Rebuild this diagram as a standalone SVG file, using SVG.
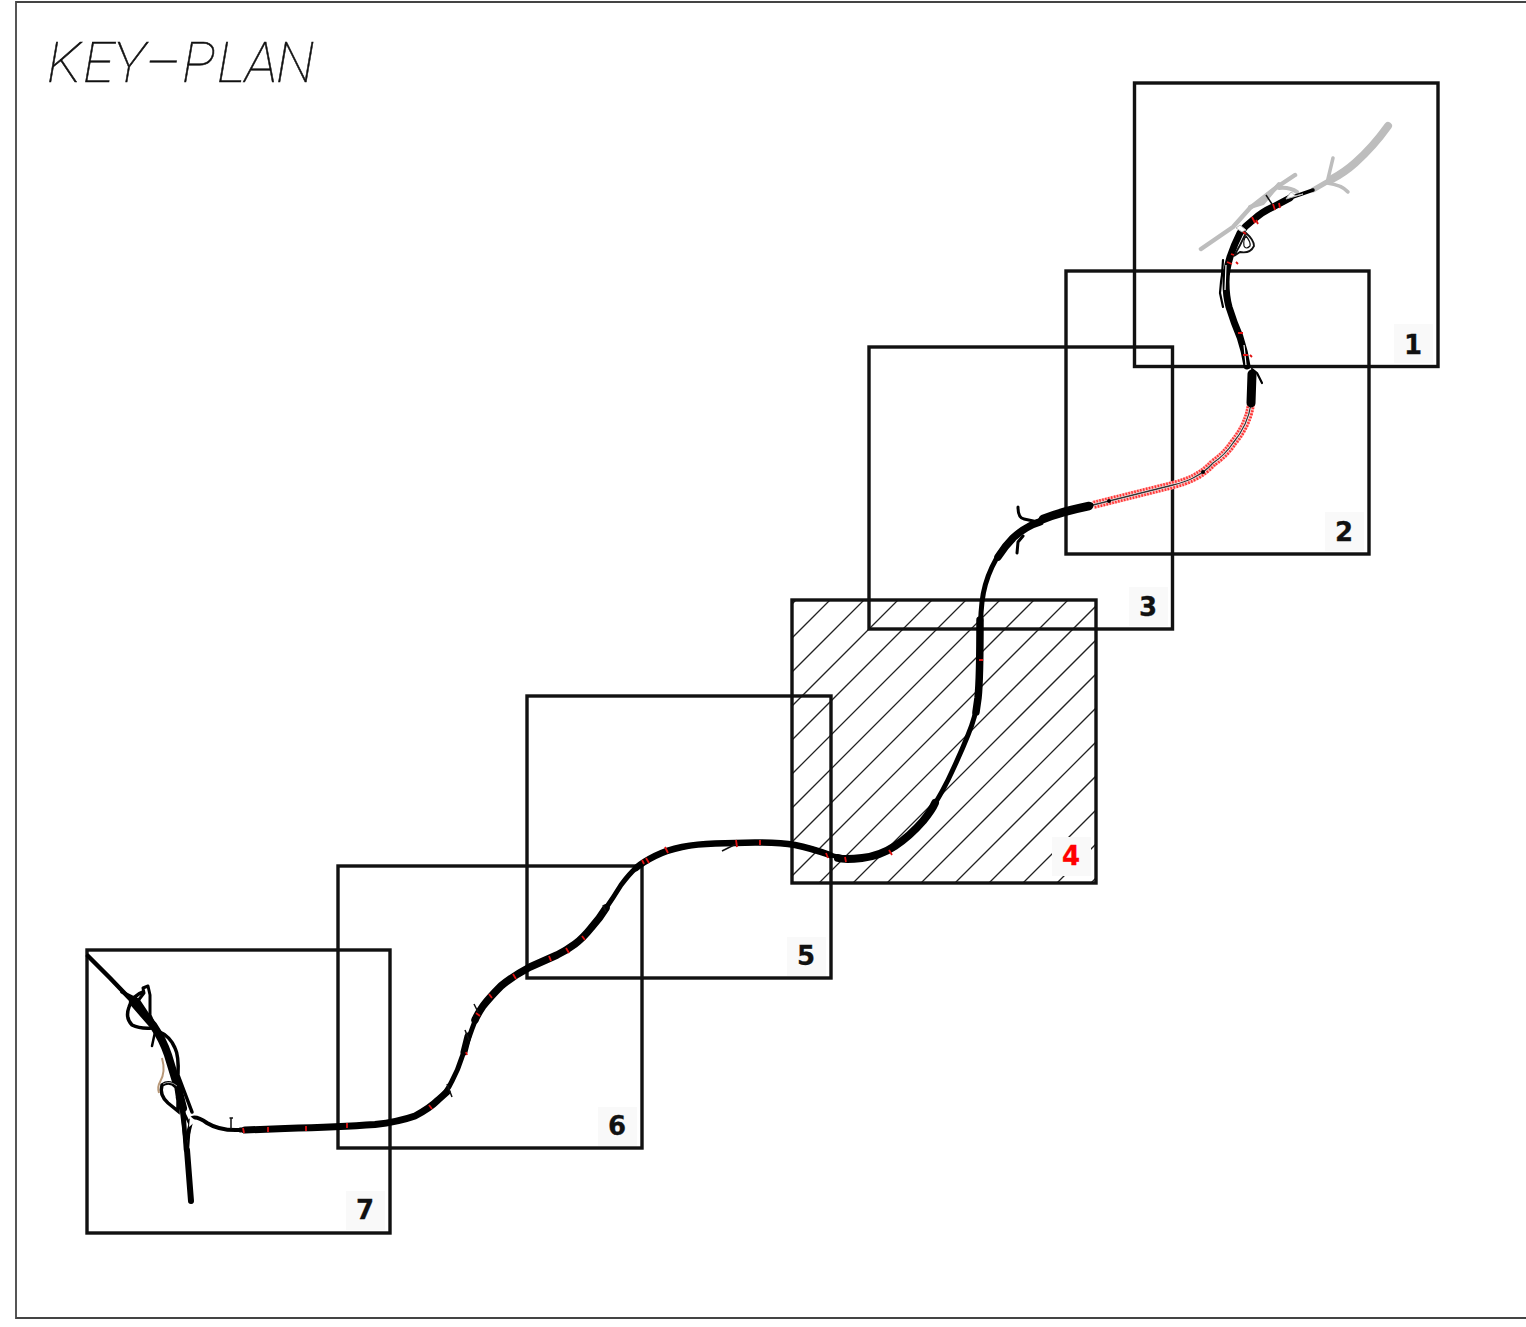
<svg xmlns="http://www.w3.org/2000/svg" width="1526" height="1327" viewBox="0 0 1526 1327">
<style>
.frame{fill:none;stroke:#111;stroke-width:3.400}
.hatch{fill:none;stroke:#222;stroke-width:1.300}
.lbg{fill:#f9f9f9}
.num{font-family:"DejaVu Sans",sans-serif;font-weight:700;font-size:26px;text-anchor:middle;fill:#111;stroke:#111;stroke-width:.3}
.title{font-family:Roboto,"Liberation Sans",sans-serif;font-weight:100;font-style:italic;font-size:56px;fill:#111;stroke:#111;stroke-width:.5}
.rd{fill:none;stroke:#000;stroke-linecap:round;stroke-linejoin:round}
.gr{fill:none;stroke:#bdbdbd;stroke-linecap:round;stroke-linejoin:round}
.tick{fill:none;stroke:#e01010;stroke-width:1.800}
.bt{fill:none;stroke:#111;stroke-width:1.500}
</style>
<defs><clipPath id="c4"><rect x="792" y="600" width="304" height="283"/></clipPath></defs>
<rect width="1526" height="1327" fill="#fff"/>
<path d="M1526 2H16V1318H1526" fill="none" stroke="#444" stroke-width="1.800"/>
<text id="title" class="title" x="47 83 113 145 182 217 245 276" y="82">KEY–PLAN</text>
<g id="sheet-4-hatch" clip-path="url(#c4)">
<path class="hatch" d="M796 600L513 883M830 600L547 883M864 600L581 883M898 600L615 883M932 600L649 883M966 600L683 883M1000 600L717 883M1034 600L751 883M1068 600L785 883M1102 600L819 883M1136 600L853 883M1170 600L887 883M1204 600L921 883M1238 600L955 883M1272 600L989 883M1306 600L1023 883M1340 600L1057 883M1374 600L1091 883"/>
</g>
<g id="sheet-1"><rect class="frame" x="1134.500" y="83" width="303.500" height="283.500"/><rect class="lbg" x="1394" y="324" width="39" height="39"/><text class="num" x="1413" y="354">1</text></g>
<g id="sheet-2"><rect class="frame" x="1066" y="271" width="303" height="283"/><rect class="lbg" x="1325" y="512" width="39" height="39"/><text class="num" x="1344" y="541">2</text></g>
<g id="sheet-3"><rect class="frame" x="869" y="347" width="303.500" height="282"/><rect class="lbg" x="1129" y="587" width="39" height="39"/><text class="num" x="1148" y="616">3</text></g>
<g id="sheet-4"><rect class="frame" x="792" y="600" width="304" height="283"/><rect class="lbg" x="1052" y="837" width="39" height="39"/><text class="num" x="1071" y="865" style="fill:#f00;stroke:#f00">4</text></g>
<g id="sheet-5"><rect class="frame" x="527" y="696" width="304" height="282"/><rect class="lbg" x="787" y="937" width="39" height="39"/><text class="num" x="806" y="965">5</text></g>
<g id="sheet-6"><rect class="frame" x="338" y="866" width="304" height="282"/><rect class="lbg" x="598" y="1107" width="39" height="39"/><text class="num" x="617" y="1135">6</text></g>
<g id="sheet-7"><rect class="frame" x="87" y="950" width="303" height="283"/><rect class="lbg" x="346" y="1191" width="39" height="39"/><text class="num" x="365" y="1219">7</text></g>
<g id="road">
<g id="grey-existing">
<path class="gr" stroke-width="8" d="M1388 126Q1373 147 1355 163Q1345 172 1332 179"/>
<path class="gr" stroke-width="5" d="M1332 179L1313 190"/>
<path class="gr" stroke-width="3.500" d="M1333 158L1327 183Q1342 185 1348 192"/>
<path class="gr" stroke-width="4.500" d="M1201 249L1233 227L1250 208L1277 187L1295 175"/>
<path class="gr" stroke-width="4" d="M1250 207L1263 203L1279 184M1279 188Q1290 187 1297 192"/>
</g>
<g id="red-section">
<path d="M1251 404Q1248 425 1233 443Q1225 455 1213 463Q1205 472 1193 478Q1185 482 1173 485L1093 505" fill="none" stroke="#ffb0b0" stroke-width="8"/>
<path d="M1251 404Q1248 425 1233 443Q1225 455 1213 463Q1205 472 1193 478Q1185 482 1173 485L1093 505" fill="none" stroke="#f33" stroke-width="8" stroke-dasharray="1.500 1.500"/>
<path d="M1251 404Q1248 425 1233 443Q1225 455 1213 463Q1205 472 1193 478Q1185 482 1173 485L1093 505" fill="none" stroke="#fff" stroke-width="2.500"/>
<path d="M1251 404Q1248 425 1233 443Q1225 455 1213 463Q1205 472 1193 478Q1185 482 1173 485L1093 505" fill="none" stroke="#333" stroke-width="1.300"/>
<circle cx="1203" cy="472" r="2" fill="#000"/><circle cx="1109" cy="501" r="2" fill="#000"/>
</g>
<path class="rd" stroke-width="5" d="M1091 505Q1060 512 1043 519Q1026 526 1013 538Q1000 550 992 567Q984 584 982 602Q980 620 980 650Q980 680 978 698Q976 716 968 735Q960 755 948 780Q935 806 923 821Q910 836 895 846Q880 856 862 858Q845 860 828 854Q810 848 795 845Q780 842 755 842.500Q737 843 715 843.500Q697 844 682 847Q667 850 655 856Q643 862 636 868Q630 873 621 885Q613 898 606 908Q600 918 591 928Q583 938 575 944Q567 950 557 955Q548 959 530 967Q513 976 501 986Q490 997 483 1006Q477 1015 472 1029Q467 1043 462 1057Q458 1070 452 1081Q447 1092 438 1100Q430 1108 415 1116Q398 1122 375 1124.500Q340 1127 285 1128.500L240 1130"/>
<path class="rd" stroke-width="8.500" d="M1089 506Q1060 512 1043 519"/>
<path class="rd" stroke-width="7.500" d="M1040 522Q1026 526 1013 538Q1005 546 998 557"/>
<path class="rd" stroke-width="7.500" d="M980 620Q980 680 978 698L976 712"/>
<path class="rd" stroke-width="8" d="M935 803Q932 810 923 821Q910 836 895 846Q880 856 862 858Q845 860 838 858"/>
<path class="rd" stroke-width="6.500" d="M830 855Q810 848 795 845Q780 842 755 842.500Q737 843 715 843.500Q697 844 682 847Q667 850 655 856Q643 862 636 868"/>
<path class="rd" stroke-width="7.500" d="M606 908Q600 918 591 928Q583 938 575 944Q567 950 557 955Q548 959 530 967Q513 976 501 986Q490 997 483 1006Q477 1015 475 1020"/>
<path class="rd" stroke-width="7" d="M468 1036L464 1052M447 1092L438 1100Q430 1108 415 1116Q398 1122 375 1124.500Q340 1127 285 1128.500L245 1130"/>
<path class="rd" stroke-width="3" d="M1018 507Q1018 518 1024 519L1038 522M1017 553L1018 542L1023 536"/>
<g id="junction-north">
<path class="rd" stroke-width="3.500" d="M1313 190L1290 198"/>
<path class="rd" stroke-width="7" d="M1290 198L1273 207Q1262 212 1253 220Q1245 226 1240 233Q1234 245 1230 257Q1226 270 1226 282Q1226 296 1229 307Q1234 323 1240 337Q1245 352 1247 366"/>
<path class="rd" stroke-width="9" d="M1252 374L1251 403"/>
<path class="rd" stroke-width="2.200" d="M1252 369L1257 373L1262 383M1223 260L1222 275L1221 282L1220 293L1223 307"/>
<path fill="none" stroke="#fff" stroke-width="1.200" d="M1226 265L1225 290M1244 345L1246 365"/>
<path d="M1246 233Q1254 240 1254 246Q1250 254 1240 252L1234 256Q1240 246 1246 233Z" fill="#fff" stroke="#111" stroke-width="1.800"/>
<path d="M1246 236Q1251 242 1250 246Q1246 250 1244 246Q1243 240 1246 236Z" fill="#fff" stroke="#111" stroke-width="1.200"/>
<path d="M1295 196Q1292 191 1290 193L1286 199L1303 194Z" fill="#fff" stroke="#bbb" stroke-width="1"/>
<path d="M1236 228L1240 225L1246 230L1242 232Z" fill="#fff" stroke="#bbb" stroke-width="1"/>
<path class="bt" d="M1266 195L1272 204"/>
</g>
<g id="junction-south">
<path class="rd" stroke-width="4.500" d="M88 956L110 978L133 1002L153 1025"/>
<path class="rd" stroke-width="8" d="M133 1002L153 1025Q163 1040 168 1055L178 1088L183 1108"/>
<path class="rd" stroke-width="4.500" d="M183 1108L186 1150"/>
<path class="rd" stroke-width="6" d="M187 1150L191 1201"/>
<path class="rd" stroke-width="3.500" d="M122 992L138 1000L160 1033M143 992Q133 995 129 1007Q125 1018 132 1025Q140 1029 152 1028"/>
<path class="rd" stroke-width="3" d="M148 986L143 988L144 993L134 1006M148 986L150 995V1015L154 1024"/>
<path class="rd" stroke-width="3.500" d="M158 1031Q170 1036 175 1048Q179 1056 178 1075L192 1112"/>
<path class="rd" stroke-width="2.500" d="M155 1032L152 1046"/>
<path d="M162 1085Q170 1080 176 1087L178 1100L178 1111L168 1103Q159 1095 162 1085Z" fill="#fff" stroke="#000" stroke-width="3.500"/>
<path fill="none" stroke="#999" stroke-width="1" d="M163 1084Q170 1080 177 1086"/>
<path fill="none" stroke="#b89878" stroke-width="2" d="M162 1058Q166 1072 160 1082Q157 1087 159 1093"/>
<path class="rd" stroke-width="4" d="M188 1134L192 1118Q197 1116 207 1123Q220 1131 240 1130"/>
<path class="rd" stroke-width="2.500" d="M177 1098L190 1125L186 1140M181 1110L186 1150M190 1120L188 1148"/>
<path d="M190 1116L196 1121L189 1127Z" fill="#fff"/>
<path class="bt" d="M231 1118V1129M229.500 1118H233"/>
</g>
<path class="bt" d="M722 851L738 843M447 1084L452 1097M474 1004L478 1012M465 1030L469 1040M603 905L606 912"/>
<path class="tick" d="M1273 204L1275 210M1279 203L1280 208M1252 217L1255 223M1256 220L1258 224M1243 232L1246 234M1231 254L1234 255M1236 262L1238 264M1227 262L1232 264M1238 333L1243 333M1243 355L1248 355M1250 355L1252 357M979 660L983 660M889 850L892 855M845 857L846 862M826 853L828 858M736 840L737 847M760 840L760 845M646 858L649 863M665 847L668 853M642 860L644 864M582 936L585 940M566 948L569 953M549 956L551 961M513 974L516 979M489 994L492 998M476 1013L480 1016M466 1052L467 1055M429 1105L432 1109M347 1123L347 1128M306 1126L306 1131M268 1127L268 1132M243 1128L244 1133"/>
</g>
</svg>
